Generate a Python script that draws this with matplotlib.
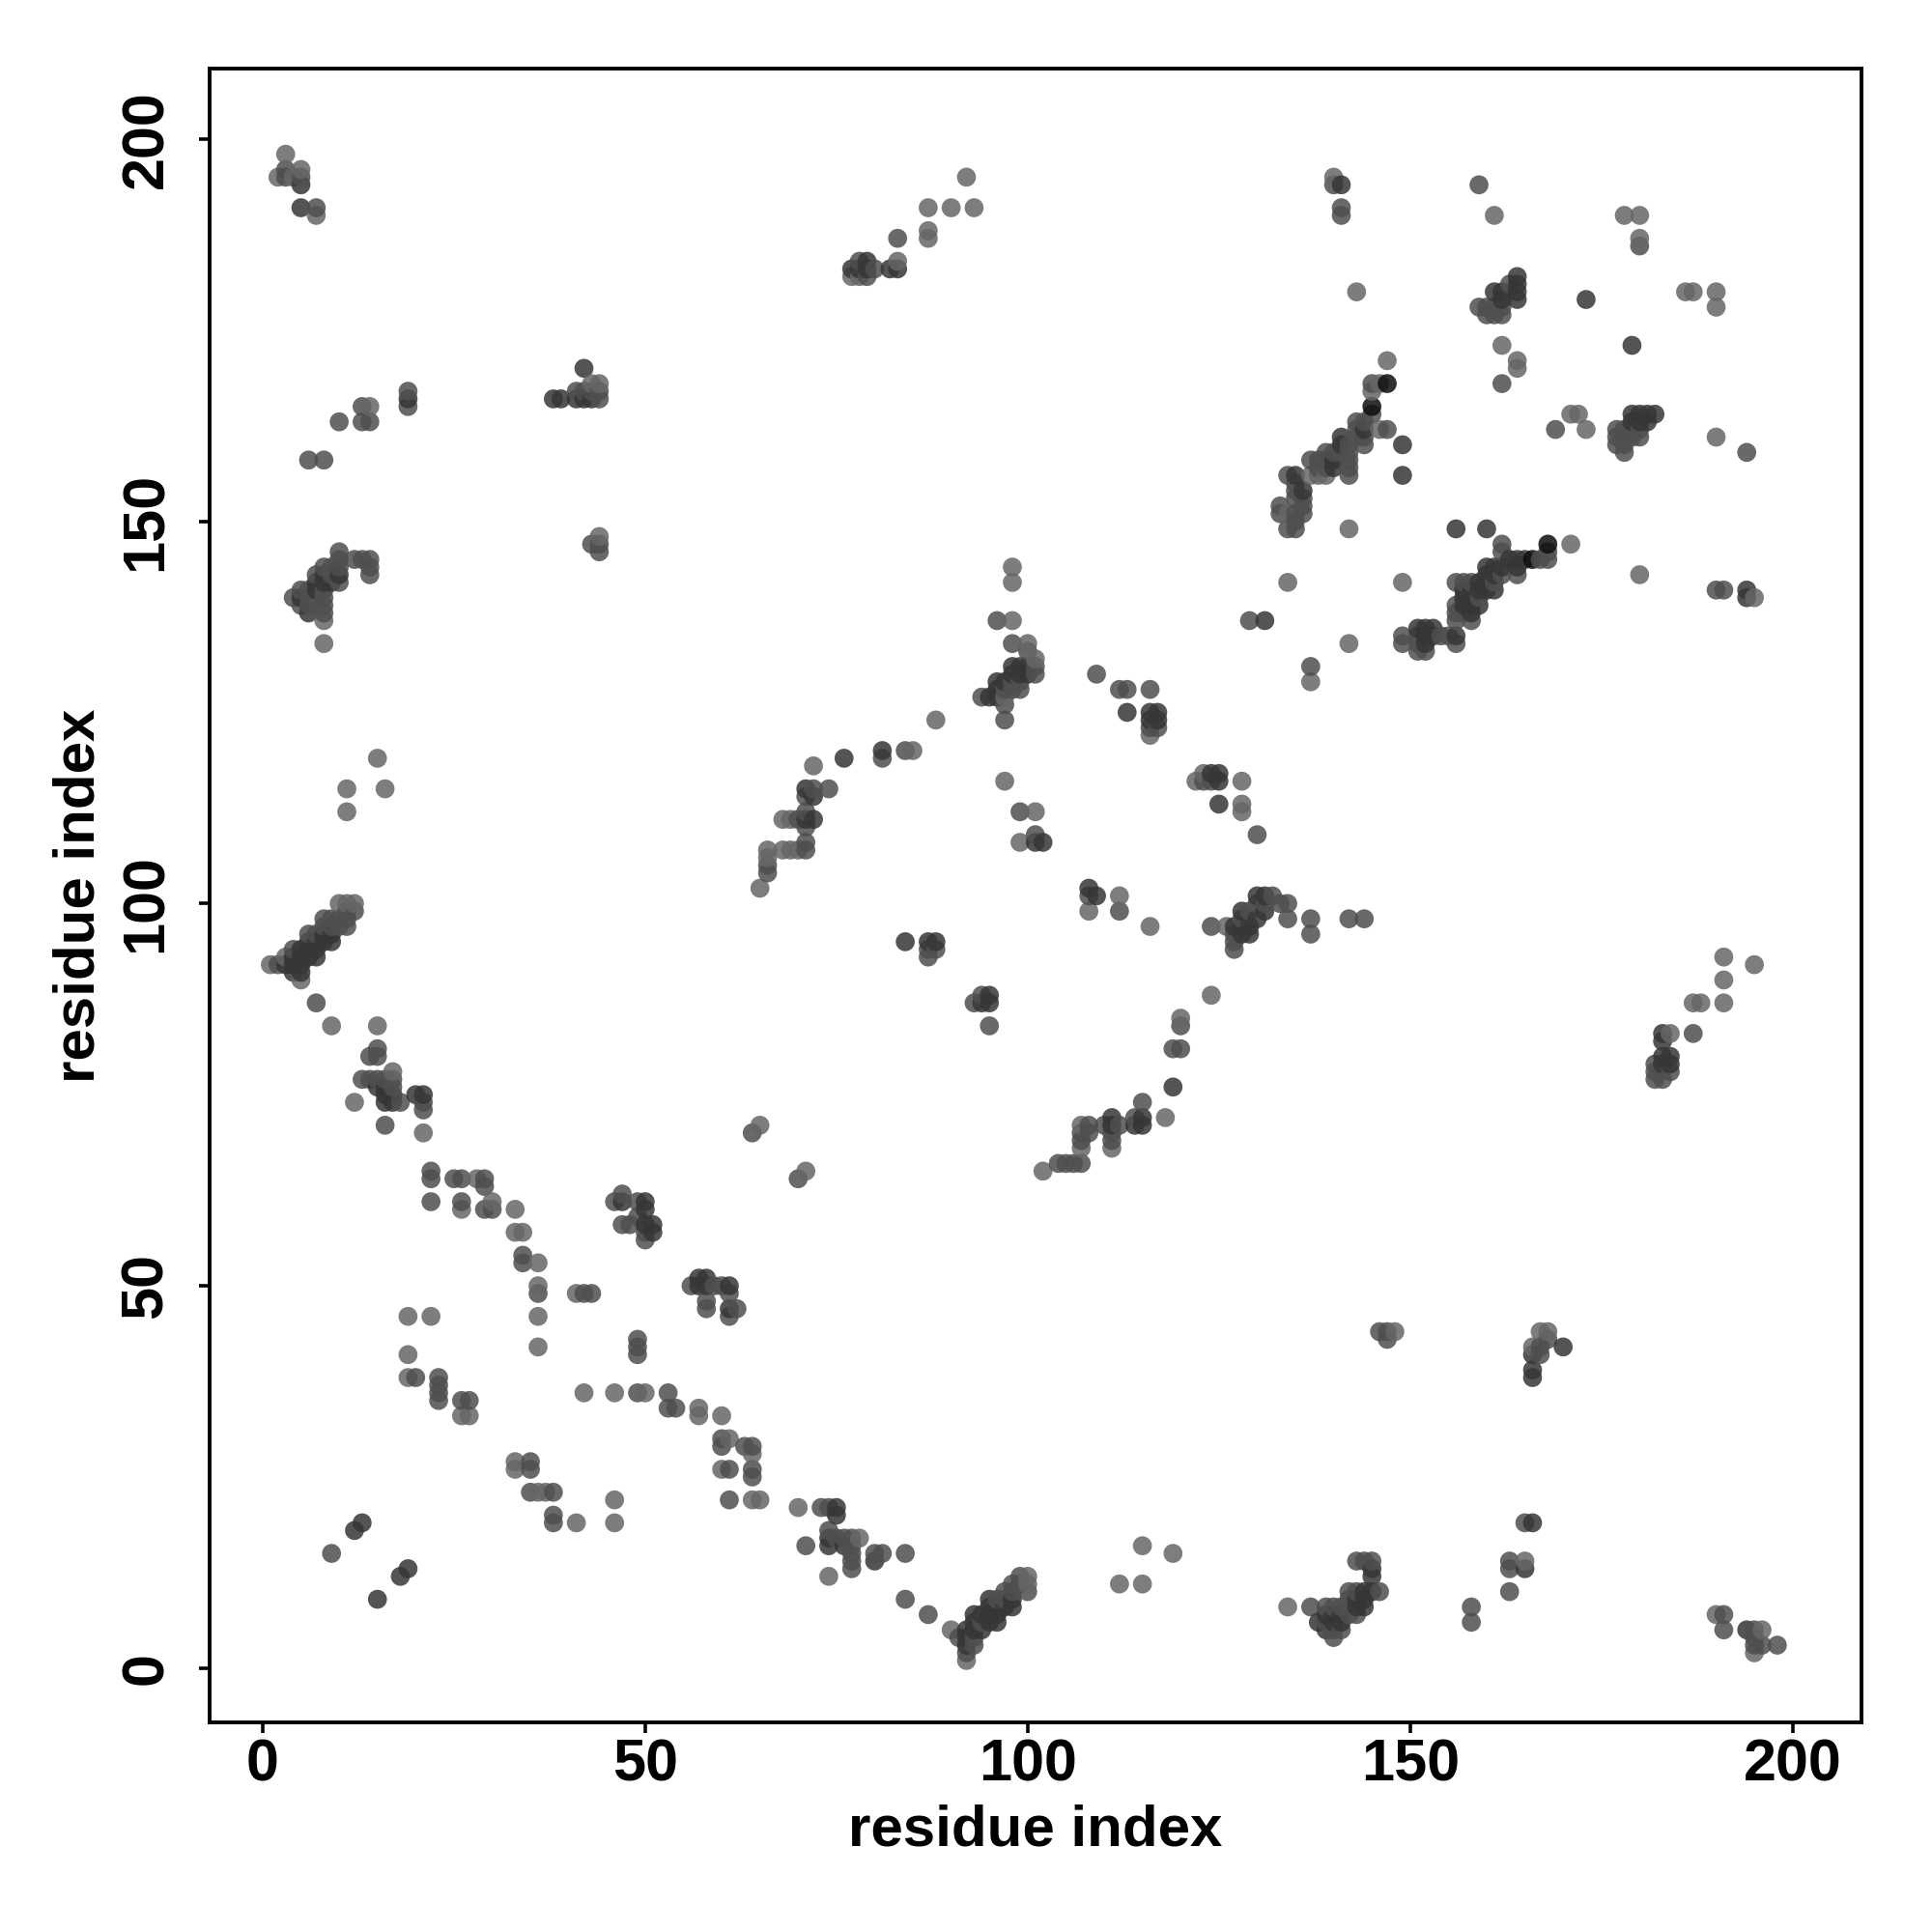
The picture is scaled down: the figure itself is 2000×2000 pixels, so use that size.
import matplotlib
matplotlib.use("Agg")
import matplotlib.pyplot as plt

light = [(3,198),(2,195),(4,195),(5,196),(7,190),(44,168),(14,165),(44,148),(8,134),(8,137),
(43,168),(140,195),(143,180),(161,190),(180,190),(178,190),(180,187),(187,180),(186,180),(190,178),(190,180),
(162,173),(164,171),(164,170),(147,171),(146,168),(145,167),(146,162),(142,149),(134,142),(149,142),(180,143),
(195,140),(190,161),(171,164),(172,164),(173,162),(142,134),(137,129),(171,147),(134,151),(137,156),(138,156),(139,156),
(98,144),(98,142),(98,137),(100,134),(101,132),(97,127),(88,124),(85,120),(116,122),(72,118),(97,116),(101,112),(99,108),
(112,101),(108,99),(116,97),(128,116),(128,113),(128,112),(124,88),(120,85),(118,72),(107,71),(111,68),(107,68),(102,65),(65,71),(71,65),
(66,107),(66,106),(65,102),(68,111),(69,111),(68,107),(69,107),(70,107),(122,116),(123,117),(126,97),
(5,90),(1,92),(3,93),(10,100),(11,100),(12,100),(17,78),(12,74),(21,70),(9,84),(15,84),(30,61),(33,60),(33,57),(34,57),(36,53),(36,50),(36,46),(36,42),
(19,46),(22,46),(19,41),(42,36),(46,36),(50,36),(57,34),(57,33),(60,33),(61,30),(64,28),(60,26),(65,22),(64,22),(70,21),(78,17),(74,12),(46,19),(90,5),(92,1),(100,12),(100,11),
(148,44),(168,44),(167,44),(166,42),(165,14),(134,8),(196,5),(195,2),(190,7),(41,49),(28,64),(26,60),(26,33),(27,33),(19,38),(33,27),(33,26),(36,23),(37,23),
(41,19),(46,22),(112,11),(115,11),(115,16),(119,15),(11,115),(11,112),(15,119),(16,115),(191,87),(191,90),(191,93),(195,92),(187,87),(188,87),(184,83),(87,187),(87,188),(87,191),(90,191),(93,191),(92,195),(77,182),(78,182),(83,184)]

mid = [(3,196),(3,195),(5,195),(7,191),(10,163),(13,163),(14,163),(13,165),(19,167),(19,165),(6,158),(8,158),
(10,146),(10,145),(10,144),(10,142),(9,144),(9,143),(8,144),(8,141),(8,140),(8,139),(8,138),(7,143),(7,140),(6,141),(5,141),(4,140),(5,139),(6,139),(12,145),(13,145),(14,145),(14,144),(14,143),
(44,167),(43,167),(42,167),(41,167),(43,147),(44,147),(44,146),(44,166),
(140,194),(141,194),(141,191),(141,190),(159,194),(180,186),(159,178),(160,177),(161,177),(162,177),(162,178),(163,181),(160,178),(161,178),
(162,168),(145,168),(145,164),(144,163),(143,162),(147,162),(143,163),(144,160),(143,161),(144,161),(142,160),(142,159),(142,158),(142,157),(142,156),(141,159),(140,159),(139,159),(139,158),(139,157),(138,157),(138,158),(137,158),
(134,156),(135,155),(135,154),(135,153),(136,153),(136,152),(133,152),(133,151),(135,151),(136,151),(134,149),(135,149),(135,150),
(162,147),(162,146),(168,145),(167,145),(168,146),(164,143),(162,143),(161,142),(158,142),(156,142),(157,142),(159,140),(157,138),(156,139),(156,138),(158,137),(156,137),
(190,141),(191,141),(194,159),(169,162),(177,161),(177,160),(178,159),(178,160),(177,162),(179,162),(180,162),(179,161),(178,162),(178,161),(180,161),
(129,137),(149,135),(149,134),(151,135),(151,134),(151,133),(152,133),(154,135),(155,135),(156,134),(137,131),
(96,137),(98,134),(100,133),(101,131),(101,130),(99,129),(98,129),(99,128),(98,128),(97,128),(94,127),(97,124),(97,126),
(109,130),(112,128),(113,128),(116,128),(116,123),(117,123),(84,120),(81,119),(72,115),(71,114),(74,115),(71,112),(70,111),(71,110),(71,108),(71,107),(66,104),(66,105),
(99,112),(101,109),(108,101),(112,99),(124,116),(123,116),(130,109),
(87,93),(87,94),(88,94),(93,87),(94,88),(95,84),(124,97),(127,96),(127,94),(127,95),(128,98),(129,99),(130,100),(131,100),(132,101),(133,100),(134,100),(134,98),(137,98),(137,96),(142,98),(144,98),
(120,84),(119,81),(120,81),(115,74),(114,72),(112,71),(110,71),(108,71),(111,70),(111,69),(107,70),(108,70),(107,69),(107,66),(106,66),(105,66),(104,66),(64,70),(70,64),
(2,92),(4,94),(6,96),(8,98),(9,98),(8,97),(9,97),(10,98),(11,99),(12,99),(11,98),(11,97),(10,97),(7,87),(7,96),(15,81),(14,80),(15,80),(13,77),(14,77),(15,77),(16,77),(17,77),(17,76),(18,74),(21,74),(21,73),(16,71),
(22,65),(22,64),(22,61),(25,64),(26,64),(29,64),(29,63),(26,61),(29,60),(30,60),(34,54),(34,53),(36,49),(42,49),(43,49),
(46,61),(47,62),(49,61),(47,58),(48,58),(49,59),(50,57),(50,56),(56,50),(59,50),(60,50),(58,48),(58,47),(62,47),(61,46),(61,49),
(49,43),(49,42),(49,41),(49,36),(53,36),(53,34),(54,34),(60,30),(60,29),(63,29),(64,29),(61,26),(64,26),(64,25),(61,22),
(35,27),(35,26),(35,23),(38,23),(38,20),(38,19),(73,21),(74,21),(74,18),(75,17),(76,17),(77,17),(77,16),(77,15),(77,14),(77,13),(71,16),(80,15),(81,15),(84,15),(84,9),(87,7),(91,4),
(92,2),(93,3),(93,4),(94,6),(96,9),(97,10),(98,11),(99,12),(99,11),(100,10),(98,10),(97,9),
(146,44),(147,44),(147,43),(168,43),(167,42),(167,41),(165,19),(163,14),(163,13),(163,10),(158,8),(158,6),(137,8),(143,14),(144,14),(145,14),(142,10),(143,10),(146,10),(142,9),(139,8),(140,8),(141,8),(142,8),(142,7),(143,7),(141,5),(140,4),(140,5),(139,6),
(191,7),(191,5),(195,5),(195,4),(195,3),(196,3),(198,3),(9,15),(23,38),(23,37),(23,36),(23,35),(20,38),(26,35),(27,35),(182,78),(182,77),(183,77),(184,78),(182,79),(187,83),
(78,184),(79,182),(80,183),(83,187)]

dark = [(5,194),(5,191),(19,166),(38,166),(39,166),(41,166),(42,166),(43,166),(42,170),(10,143),(9,142),(8,143),(8,142),(7,142),(7,141),(6,138),(5,140),
(141,194),(164,182),(164,181),(164,180),(164,179),(161,180),(162,179),(173,179),(162,180),(179,173),(149,160),(149,156),(141,161),(141,160),(144,162),(140,158),(140,157),
(135,156),(136,154),(156,149),(160,149),(165,145),(164,145),(164,144),(163,145),(162,144),(161,144),(160,144),(161,143),(160,143),(160,142),(159,142),(161,141),(160,141),(159,141),(158,141),(157,141),(158,140),(157,140),(159,139),(158,139),(157,139),(158,138),
(131,137),(194,141),(194,140),(179,164),(180,164),(181,164),(182,164),(179,163),(180,163),(181,163),
(151,136),(152,136),(153,136),(153,135),(152,135),(152,134),(156,135),
(100,131),(100,130),(99,131),(98,131),(99,130),(98,130),(96,129),(96,128),(97,129),(96,127),(95,127),(113,125),(116,125),(117,125),(116,124),(117,124),
(76,119),(81,120),(71,115),(72,114),(71,111),(72,111),(125,117),(124,117),(125,116),(125,113),
(101,108),(102,108),(108,102),(109,101),(84,95),(87,95),(88,95),(94,87),(95,88),(95,87),(127,97),(128,96),(129,96),(128,99),(129,97),(128,97),(130,98),(130,101),(131,101),(131,99),
(119,76),(115,72),(115,71),(114,71),(111,72),(111,71),
(3,92),(4,93),(4,92),(4,91),(5,94),(5,93),(5,92),(5,91),(6,94),(6,93),(6,95),(7,95),(7,94),(7,93),(8,95),(8,96),(9,96),(9,95),
(16,76),(15,76),(16,75),(17,75),(16,74),(17,74),(20,75),(21,75),
(47,61),(50,61),(50,60),(50,58),(51,58),(51,57),(57,51),(58,51),(57,50),(58,50),(61,50),(61,47),
(74,17),(74,16),(75,21),(75,20),(76,16),(80,14),
(92,5),(92,4),(92,3),(93,5),(93,6),(93,7),(94,5),(94,7),(95,6),(95,7),(95,8),(95,9),(96,6),(96,7),(96,8),(97,8),(98,8),(98,9),
(166,19),(165,13),(170,42),(166,41),(166,39),(166,38),(145,13),(145,12),(145,10),(144,10),(144,9),(143,9),(144,8),(143,8),(141,7),(140,7),(139,7),(138,6),(140,6),(141,6),(139,5),(194,5),
(12,18),(13,19),(15,9),(18,12),(19,13),(183,83),(183,82),(183,80),(183,79),(184,80),(184,79),
(77,183),(78,183),(79,184),(79,183),(82,183),(83,183)]

darkest = [(147,168),(168,147),(166,145),(145,165)]

xticks = [0, 50, 100, 150, 200]
yticks = [0, 50, 100, 150, 200]

levels = {}
for pts, shade in ((light, 0.40), (mid, 0.31), (dark, 0.21), (darkest, 0.05)):
    for p in pts:
        levels[p] = shade
ordered = sorted(levels)
xs = [p[0] for p in ordered]
ys = [p[1] for p in ordered]
cols = [(levels[p], levels[p], levels[p], 0.85) for p in ordered]

plt.rcParams["font.family"] = ["Liberation Sans", "DejaVu Sans"]
plt.rcParams["font.weight"] = "bold"

fig = plt.figure(figsize=(10, 10), dpi=200)
ax = fig.add_axes([216.5/2000, 1-1783/2000, (1927-216.5)/2000, (1783-71)/2000])
ax.scatter(xs, ys, s=50, c=cols, linewidths=0)
ax.set_xlim(-7.0, 209)
ax.set_ylim(-7.1, 209.2)
ax.set_xticks(xticks)
ax.set_yticks(yticks)
ax.tick_params(axis="both", direction="out", length=3.8, width=1.3, labelsize=22)
ax.tick_params(axis="x", pad=2)
ax.tick_params(axis="y", pad=9)
for t in ax.get_yticklabels():
    t.set_rotation(90)
    t.set_va("center")
for s in ax.spines.values():
    s.set_linewidth(1.4)
ax.set_xlabel("residue index", fontsize=21.6, fontweight="bold")
ax.set_ylabel("residue index", fontsize=21.6, fontweight="bold")
ax.xaxis.set_label_coords(0.5, -0.0495)
ax.yaxis.set_label_coords(-0.0625, 0.5)
fig.savefig("out.png", dpi=200, facecolor="white")
